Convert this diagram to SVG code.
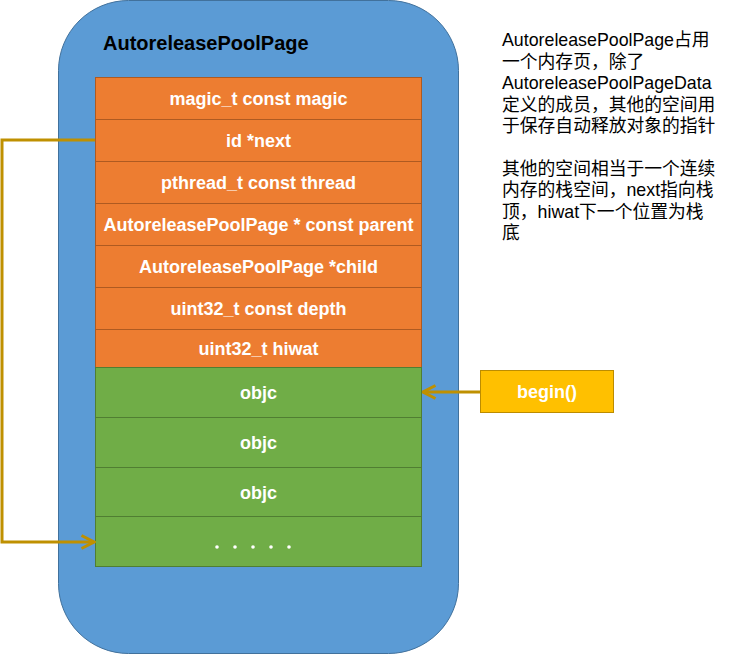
<svg xmlns="http://www.w3.org/2000/svg" width="732" height="656" viewBox="0 0 732 656">
<style>
.row{fill:#ED7D31;stroke:#AE5A21;stroke-width:1}
.obj{fill:#70AD47;stroke:#507E32;stroke-width:1}
.lbl{font-family:"Liberation Sans",Arial,sans-serif;font-weight:bold;font-size:18px;fill:#FFFFFF;text-anchor:middle;dominant-baseline:central}
.note{font-family:"Liberation Sans","Noto Sans CJK SC",sans-serif;font-size:17.8px;fill:#000000}
.conn{fill:none;stroke:#BF9000;stroke-width:3}
</style>
<defs>
<marker id="chev" viewBox="0 0 16 16" markerUnits="userSpaceOnUse" markerWidth="16" markerHeight="16" refX="14.5" refY="8" orient="auto">
<path d="M2,1.5 L14.5,8 L2,14.5" fill="none" stroke="#BF9000" stroke-width="3"/>
</marker>
</defs>
<g id="page">
<rect x="58.5" y="0.5" width="400" height="653" rx="70" ry="70" fill="#5B9BD5" stroke="#41719C" stroke-width="1"/>
<text x="103" y="50" font-family="Liberation Sans,Arial,sans-serif" font-weight="bold" font-size="20" fill="#000000">AutoreleasePoolPage</text>
</g>
<g id="magic"><rect class="row" x="95.5" y="77.5" width="326" height="42"/><text class="lbl" x="258.5" y="98.5">magic_t const magic</text></g>
<g id="next"><rect class="row" x="95.5" y="119.5" width="326" height="42"/><text class="lbl" x="258.5" y="140.5">id *next</text></g>
<g id="thread"><rect class="row" x="95.5" y="161.5" width="326" height="42"/><text class="lbl" x="258.5" y="182.5">pthread_t const thread</text></g>
<g id="parent"><rect class="row" x="95.5" y="203.5" width="326" height="42"/><text class="lbl" x="258.5" y="224.5">AutoreleasePoolPage * const parent</text></g>
<g id="child"><rect class="row" x="95.5" y="245.5" width="326" height="42"/><text class="lbl" x="258.5" y="266.5">AutoreleasePoolPage *child</text></g>
<g id="depth"><rect class="row" x="95.5" y="287.5" width="326" height="42"/><text class="lbl" x="258.5" y="308.5">uint32_t const depth</text></g>
<g id="hiwat"><rect class="row" x="95.5" y="329.5" width="326" height="38"/><text class="lbl" x="258.5" y="348.5">uint32_t hiwat</text></g>
<g id="objc1"><rect class="obj" x="95.5" y="367.5" width="326" height="50"/><text class="lbl" x="258.5" y="392.5">objc</text></g>
<g id="objc2"><rect class="obj" x="95.5" y="417.5" width="326" height="50"/><text class="lbl" x="258.5" y="442.5">objc</text></g>
<g id="objc3"><rect class="obj" x="95.5" y="467.5" width="326" height="49"/><text class="lbl" x="258.5" y="492.5">objc</text></g>
<g id="more"><rect class="obj" x="95.5" y="516.5" width="326" height="50"/>
<g fill="#FFFFFF"><circle cx="217" cy="547" r="1.8"/><circle cx="235" cy="547" r="1.8"/><circle cx="253" cy="547" r="1.8"/><circle cx="271" cy="547" r="1.8"/><circle cx="289" cy="547" r="1.8"/></g>
</g>
<g id="begin"><rect x="480.5" y="370.5" width="133" height="42" fill="#FFC000" stroke="#BC8C00" stroke-width="1"/><text class="lbl" x="547" y="391.5">begin()</text></g>
<g id="notes">
<text class="note" x="502" y="46">AutoreleasePoolPage占用</text>
<text class="note" x="502" y="67.5">一个内存页，除了</text>
<text class="note" x="502" y="89">AutoreleasePoolPageData</text>
<text class="note" x="502" y="110.5">定义的成员，其他的空间用</text>
<text class="note" x="502" y="132">于保存自动释放对象的指针</text>
<text class="note" x="502" y="174.5">其他的空间相当于一个连续</text>
<text class="note" x="502" y="196">内存的栈空间，next指向栈</text>
<text class="note" x="502" y="217.5">顶，hiwat下一个位置为栈</text>
<text class="note" x="502" y="239">底</text>
</g>
<g id="connectors">
<path class="conn" d="M95,140 H2 V542 H94" marker-end="url(#chev)"/>
<path class="conn" d="M480,392 H423" marker-end="url(#chev)"/>
</g>
</svg>
